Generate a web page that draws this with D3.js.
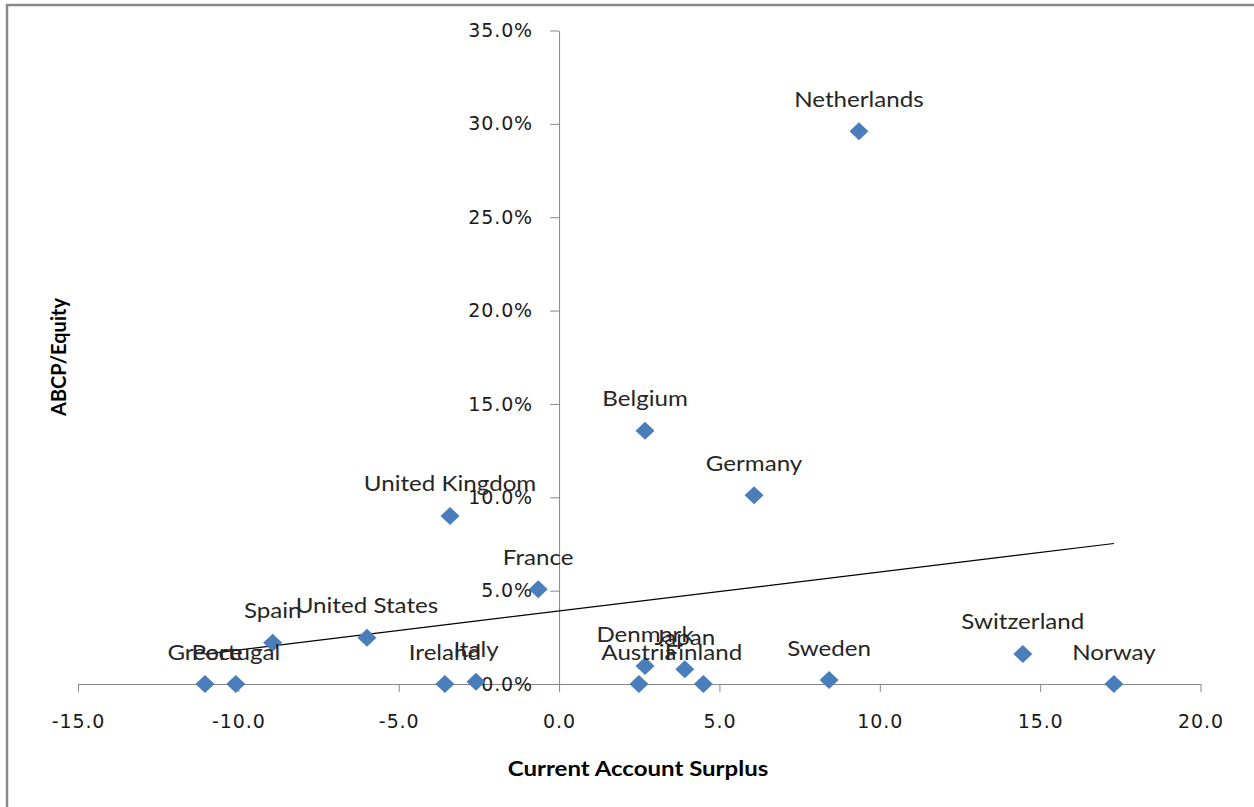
<!DOCTYPE html>
<html>
<head>
<meta charset="utf-8">
<script src="https://cdn.jsdelivr.net/npm/d3@7.9.0/dist/d3.min.js"></script>
<style>
  body { margin: 0; background: #fff; }
  svg { display: block; }
  .tick text { font-family: "DejaVu Sans", Verdana, sans-serif; font-size: 19px; fill: #1a1a1a; letter-spacing: 0.9px; }
  .tick line, .domain { stroke: #868686; }
  .lbl { font-family: Lato, "Open Sans", sans-serif; font-size: 21px; fill: #262626; }
  .title { font-family: Lato, "Open Sans", sans-serif; font-size: 20px; font-weight: bold; fill: #000; }
</style>
</head>
<body>
<svg id="chart" width="1254" height="807"></svg>
<script>
// countries and their values
const countries = ['Greece', 'Portugal', 'Spain', 'United States', 'Ireland', 'Italy',
  'United Kingdom', 'France', 'Belgium', 'Denmark', 'Austria', 'Japan', 'Finland',
  'Germany', 'Sweden', 'Netherlands', 'Switzerland', 'Norway'];
const surplus = [-11.04, -10.08, -8.93, -5.99, -3.56, -2.59,
  -3.40, -0.65, 2.68, 2.68, 2.49, 3.92, 4.50,
  6.08, 8.42, 9.35, 14.46, 17.30];
const abcpEquity = [0.0, 0.0, 2.21, 2.48, 0.0, 0.12,
  9.0, 5.07, 13.57, 0.96, 0.0, 0.79, 0.0,
  10.11, 0.21, 29.6, 1.61, 0.0];
const xTicks = [-15, -10, -5, 0, 5, 10, 15, 20];
const yTicks = [0, 5, 10, 15, 20, 25, 30, 35];

const points = countries.map((c, i) => ({ name: c, x: surplus[i], y: abcpEquity[i] }));

// plain hyphen for negatives, like the original
const fmt = d3.formatLocale({ decimal: '.', thousands: ',', grouping: [3], currency: ['', ''], minus: '-' }).format('.1f');

const svg = d3.select('#chart');

// outer frame (left + top edge visible)
svg.append('rect')
  .attr('x', 7).attr('y', 5)
  .attr('width', 1300).attr('height', 900)
  .attr('fill', 'none')
  .attr('stroke', '#888')
  .attr('stroke-width', 2.5);

const x = d3.scaleLinear().domain([-15, 20]).range([78, 1200.5]);
const y = d3.scaleLinear().domain([0, 35]).range([684, 30.5]);

// axes cross at zero
svg.append('g')
  .attr('transform', `translate(0,${y(0)})`)
  .call(d3.axisBottom(x).tickValues(xTicks).tickFormat(fmt)
    .tickSize(8).tickSizeOuter(0).tickPadding(23));

svg.append('g')
  .attr('transform', `translate(${x(0)},0)`)
  .call(d3.axisLeft(y).tickValues(yTicks).tickFormat(d => fmt(d) + '%')
    .tickSize(9).tickSizeOuter(0).tickPadding(17));

// linear trendline (least squares over the points)
const mx = d3.mean(surplus), my = d3.mean(abcpEquity);
const slope = d3.sum(points, p => (p.x - mx) * (p.y - my)) / d3.sum(points, p => (p.x - mx) ** 2);
const icpt = my - slope * mx;
const ext = d3.extent(surplus);
svg.append('path')
  .attr('d', d3.line()(ext.map(v => [x(v), y(icpt + slope * v)])))
  .attr('stroke', '#000')
  .attr('stroke-width', 1.2)
  .attr('fill', 'none');

// diamonds
svg.append('g').selectAll('path')
  .data(points)
  .join('path')
  .attr('d', d => {
    const cx = x(d.x), cy = y(d.y);
    return `M${cx},${cy - 9}L${cx + 9.5},${cy}L${cx},${cy + 9}L${cx - 9.5},${cy}Z`;
  })
  .attr('fill', '#4a7ebb');

// data labels, centred above each point
svg.append('g').selectAll('text')
  .data(points)
  .join('text')
  .attr('class', 'lbl')
  .attr('text-anchor', 'middle')
  .attr('transform', d => `translate(${x(d.x)},${y(d.y) - 24.5}) scale(1.15,1)`)
  .text(d => d.name);

// axis titles
svg.append('text')
  .attr('class', 'title')
  .attr('text-anchor', 'middle')
  .attr('transform', 'translate(638,776) scale(1.2,1)')
  .text('Current Account Surplus');

svg.append('text')
  .attr('class', 'title')
  .attr('text-anchor', 'middle')
  .attr('transform', 'translate(66,357) rotate(-90)')
  .text('ABCP/Equity');
</script>
</body>
</html>
